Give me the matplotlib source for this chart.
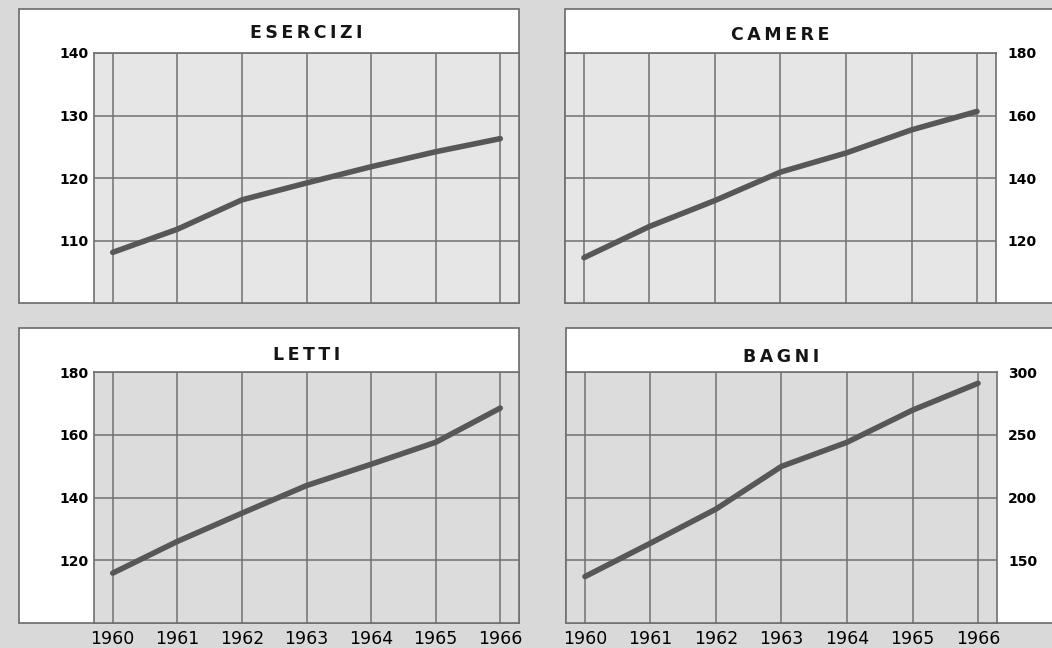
import matplotlib
matplotlib.use("Agg")
from matplotlib import pyplot as plt
from matplotlib.patches import Rectangle

# data
years = [1960, 1961, 1962, 1963, 1964, 1965, 1966]
esercizi = [108.1, 111.8, 116.5, 119.2, 121.8, 124.2, 126.3]
camere = [114.5, 124.5, 132.8, 141.9, 148.0, 155.4, 161.3]
letti = [115.9, 126.0, 135.0, 143.8, 150.6, 157.6, 168.5]
bagni = [137.0, 163.6, 190.8, 224.8, 244.0, 269.6, 291.0]

esercizi_ticks = [110, 120, 130, 140]
camere_ticks = [120, 140, 160, 180]
letti_ticks = [120, 140, 160, 180]
bagni_ticks = [150, 200, 250, 300]

W, H = 1052, 648
GRID = "#707070"
LINE = "#575757"


def fig_rect(x0, y0, x1, y1):
    # pixel box (top-left origin) -> figure fraction [left, bottom, width, height]
    return [x0 / W, 1 - y1 / H, (x1 - x0) / W, (y1 - y0) / H]


def spaced(txt):
    return "\u2009".join(txt)


def draw_panel(fig, outer, inner, title, title_y, values, ticks, side, show_x, face):
    l, b, w, h = fig_rect(*outer)
    fig.add_artist(Rectangle((l, b), w, h, transform=fig.transFigure,
                             facecolor="white", edgecolor="#6a6a6a", lw=1.2, zorder=0))

    ax = fig.add_axes(fig_rect(*inner))
    ax.set_facecolor(face)
    ax.plot(years, values, color=LINE, lw=4, solid_capstyle="round", zorder=3)

    ax.set_xlim(1959.71, 1966.29)
    ax.set_ylim(ticks[0] - (ticks[1] - ticks[0]), ticks[-1])
    ax.set_xticks(years)
    ax.set_yticks(ticks)
    ax.grid(True, color=GRID, lw=1.1)
    ax.set_axisbelow(True)
    for s in ax.spines.values():
        s.set_color(GRID)
        s.set_linewidth(1.2)

    if side == "right":
        ax.yaxis.tick_right()
        ax.tick_params(axis="y", pad=8)
    else:
        ax.tick_params(axis="y", pad=4)
    ax.tick_params(length=0)
    for lab in ax.get_yticklabels():
        lab.set_fontsize(10)
        lab.set_fontweight("bold")

    if show_x:
        ax.tick_params(axis="x", pad=5, labelsize=12.5)
    else:
        ax.tick_params(axis="x", labelbottom=False)

    cx = (inner[0] + inner[2]) / 2 / W
    fig.text(cx, 1 - title_y / H, spaced(title), ha="center", va="center",
             fontsize=12.5, fontweight="bold", color="#151515")
    return ax


fig = plt.figure(figsize=(W / 100, H / 100), dpi=100)
fig.patch.set_facecolor("#d9d9d9")

draw_panel(fig, (19, 9, 519, 303), (94, 53, 519, 303), "ESERCIZI", 33,
           esercizi, esercizi_ticks, "left", False, "#e6e6e6")
draw_panel(fig, (565, 9, 1060, 303), (565, 53, 996, 303), "CAMERE", 35,
           camere, camere_ticks, "right", False, "#e6e6e6")
draw_panel(fig, (19, 328, 519, 623), (94, 372, 519, 623), "LETTI", 355,
           letti, letti_ticks, "left", True, "#dcdcdc")
draw_panel(fig, (566, 328, 1060, 623), (566, 372, 997, 623), "BAGNI", 357,
           bagni, bagni_ticks, "right", True, "#dcdcdc")

fig.savefig("out.png", dpi=100, facecolor=fig.get_facecolor())
